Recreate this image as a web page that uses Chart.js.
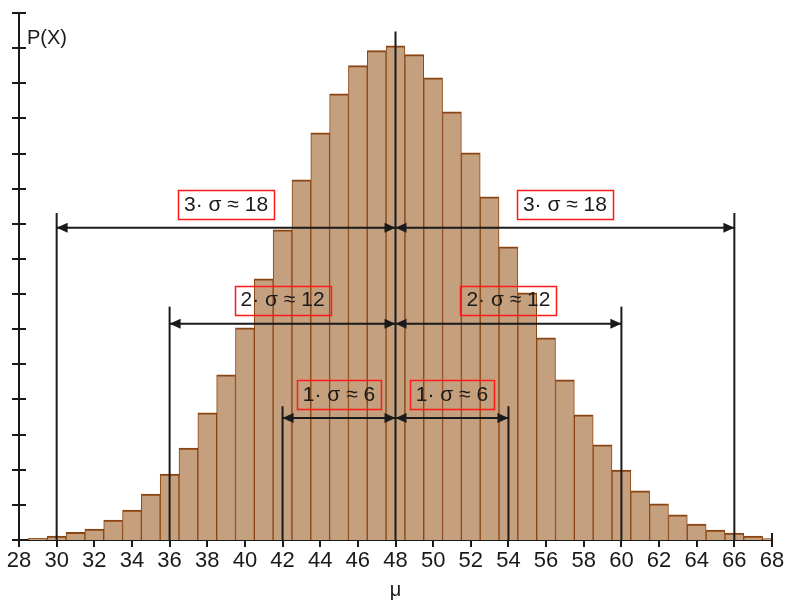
<!DOCTYPE html>
<html>
<head>
<meta charset="utf-8">
<script src="https://cdn.jsdelivr.net/npm/chart.js@4.4.0/dist/chart.umd.min.js"></script>
<style>
  html, body { margin: 0; padding: 0; background: #fff; }
  #wrap { width: 791px; height: 600px; }
</style>
</head>
<body>
<div id="wrap"><canvas id="c" width="791" height="600"></canvas></div>
<script>
// --- data (X = 29..68) ---
const xValues = [29, 30, 31, 32, 33, 34, 35, 36, 37, 38, 39, 40, 41, 42, 43, 44, 45, 46, 47, 48,
                 49, 50, 51, 52, 53, 54, 55, 56, 57, 58, 59, 60, 61, 62, 63, 64, 65, 66, 67, 68];
const probValues = [0.00023, 0.00054, 0.00104, 0.00148, 0.00269, 0.00404, 0.00619, 0.00888, 0.01238, 0.01710,
                    0.02221, 0.02854, 0.03513, 0.04173, 0.04846, 0.05479, 0.06004, 0.06381, 0.06583, 0.06650,
                    0.06529, 0.06219, 0.05762, 0.05210, 0.04617, 0.03944, 0.03325, 0.02719, 0.02154, 0.01683,
                    0.01279, 0.00942, 0.00660, 0.00485, 0.00337, 0.00215, 0.00135, 0.00094, 0.00054, 0.00020];

const mu = 48;
const sigma = 6;
const sigmaSteps = [1, 2, 3];
const sigmaLabels = ['1· σ ≈ 6', '2· σ ≈ 12', '3· σ ≈ 18'];
const arrowLevels = [0.0164, 0.0291, 0.0420];   // hauteur des flèches
const guideTops = [0.0180, 0.0314, 0.0440];     // haut des traits verticaux
const muLineTop = 0.0684;

const xMin = 28, xMax = 68, xStep = 2;
const yMax = 0.0709;
const yTickCount = 15;

const FONT = '"Liberation Sans", Arial, sans-serif';
const INK = '#1a1a1a';

// --- overlay : croix de l'axe Y, lignes μ ± kσ, flèches, étiquettes ---
const sigmaOverlay = {
  id: 'sigmaOverlay',
  afterDraw(chart) {
    const { ctx, scales: { x, y } } = chart;
    const line = (x1, y1, x2, y2) => {
      ctx.beginPath(); ctx.moveTo(x1, y1); ctx.lineTo(x2, y2); ctx.stroke();
    };
    const head = (tipX, py, dir) => { // dir = +1 pointe vers la droite
      ctx.beginPath();
      ctx.moveTo(tipX, py);
      ctx.lineTo(tipX - dir * 11, py - 5);
      ctx.lineTo(tipX - dir * 11, py + 5);
      ctx.closePath();
      ctx.fill();
    };

    ctx.save();
    ctx.strokeStyle = INK;
    ctx.fillStyle = INK;
    ctx.lineWidth = 2;

    // y axis cross ticks
    const axX = x.left;
    y.ticks.forEach(t => {
      const py = Math.round(y.getPixelForValue(t.value));
      line(axX - 7, py, axX + 7, py);
    });
    // right end of x axis
    const endX = x.getPixelForValue(xMax);
    const baseY = y.getPixelForValue(0);
    line(endX, baseY - 7, endX, baseY + 7);

    // μ line
    const muX = x.getPixelForValue(mu);
    line(muX, baseY, muX, y.getPixelForValue(muLineTop));

    ctx.font = '21px ' + FONT;
    ctx.textAlign = 'center';
    ctx.textBaseline = 'middle';

    sigmaSteps.forEach((n, i) => {
      const yA = y.getPixelForValue(arrowLevels[i]);
      const yTop = y.getPixelForValue(guideTops[i]);
      [-1, 1].forEach(side => {
        const gx = x.getPixelForValue(mu + side * n * sigma);
        ctx.strokeStyle = INK;
        ctx.lineWidth = 2;
        line(gx, baseY, gx, yTop);
        line(muX, yA, gx, yA);
        head(gx, yA, side);
        head(muX, yA, -side);

        // étiquette encadrée
        const cx = (muX + gx) / 2;
        const cy = yA - 24;
        const w = ctx.measureText(sigmaLabels[i]).width + 12;
        ctx.fillStyle = INK;
        ctx.fillText(sigmaLabels[i], cx, cy + 1);
        ctx.strokeStyle = '#ff1a1a';
        ctx.lineWidth = 1.5;
        ctx.strokeRect(Math.round(cx - w / 2) + 0.5, Math.round(cy - 14) + 0.5, Math.round(w), 29);
      });
    });

    // P(X)
    ctx.fillStyle = INK;
    ctx.textAlign = 'left';
    ctx.textBaseline = 'middle';
    ctx.font = '20px ' + FONT;
    ctx.fillText('P(X)', axX + 8, 38);
    ctx.restore();
  }
};

new Chart(document.getElementById('c'), {
  type: 'bar',
  data: {
    datasets: [{
      data: xValues.map((v, i) => ({ x: v, y: probValues[i] })),
      backgroundColor: 'rgb(196,160,127)',
      borderColor: 'rgb(139,69,19)',
      borderWidth: { top: 2, left: 1, right: 1, bottom: 0 },
      barPercentage: 1,
      categoryPercentage: 1
    }]
  },
  options: {
    responsive: false,
    animation: false,
    devicePixelRatio: 1,
    layout: { padding: { top: 13, right: 19, left: 0, bottom: 0 } },
    plugins: { legend: { display: false }, tooltip: { enabled: false } },
    scales: {
      x: {
        type: 'linear',
        offset: false,
        min: xMin,
        max: xMax,
        afterFit: s => { s.height = 60; },
        ticks: { stepSize: xStep, color: INK, padding: 1, font: { family: FONT, size: 22 }, maxRotation: 0 },
        grid: { display: true, offset: false, drawOnChartArea: false, drawTicks: true, tickLength: 7, color: INK, lineWidth: 2 },
        border: { display: true, color: INK, width: 2 },
        title: { display: true, text: 'μ', color: INK, font: { family: FONT, size: 20 }, padding: { top: 0, bottom: -2 } }
      },
      y: {
        min: 0,
        max: yMax,
        afterFit: s => { s.width = 19; },
        afterBuildTicks: s => {
          s.ticks = Array.from({ length: yTickCount + 1 }, (_, i) => ({ value: i * yMax / yTickCount }));
        },
        ticks: { display: false },
        grid: { display: false },
        border: { display: true, color: INK, width: 2 }
      }
    }
  },
  plugins: [sigmaOverlay]
});
</script>
</body>
</html>
